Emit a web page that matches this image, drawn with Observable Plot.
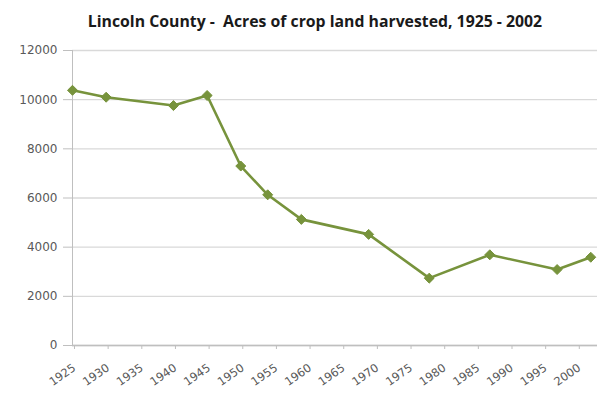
<!DOCTYPE html>
<html>
<head>
<meta charset="utf-8">
<script src="https://cdn.jsdelivr.net/npm/d3@7"></script>
<script src="https://cdn.jsdelivr.net/npm/@observablehq/plot@0.6"></script>
<style>
  html, body { margin: 0; padding: 0; background: #ffffff; }
  #chart svg { display: block; }
</style>
</head>
<body>
<div id="chart"></div>
<script>
// Census of agriculture years and harvested cropland (acres), Lincoln County
const years = [1925, 1930, 1940, 1945, 1950, 1954, 1959, 1969, 1978, 1987, 1997, 2002];
const acres = [10380, 10100, 9760, 10170, 7300, 6130, 5130, 4520, 2740, 3690, 3090, 3590];

const yearTicks = [1925, 1930, 1935, 1940, 1945, 1950, 1955, 1960, 1965, 1970, 1975, 1980, 1985, 1990, 1995, 2000];
const acreTicks = [0, 2000, 4000, 6000, 8000, 10000, 12000];

const title = "Lincoln County -  Acres of crop land harvested, 1925 - 2002";

const data = years.map((year, i) => ({year, acres: acres[i]}));

const lineColor = "#77933c";
const labelColor = "#595959";
const gridColor = "#d9d9d9";
const axisColor = "#bfbfbf";

const chart = Plot.plot({
  width: 600,
  height: 393,
  marginLeft: 72,
  marginRight: 3,
  marginTop: 50,
  marginBottom: 48,
  style: {fontFamily: "DejaVu Sans", background: "#ffffff"},
  x: {type: "linear", domain: [1925, 2003]},
  y: {type: "linear", domain: [0, 12000]},
  marks: [
    Plot.gridY(acreTicks, {stroke: gridColor, strokeOpacity: 1, strokeWidth: 1.3}),
    Plot.ruleX([1925], {stroke: axisColor, strokeWidth: 1}),
    Plot.ruleY([0], {stroke: axisColor, strokeWidth: 1.3}),
    Plot.axisY(acreTicks, {
      tickSize: 9, tickPadding: 6, fontSize: 12,
      stroke: axisColor, fill: labelColor,
      tickFormat: d => String(d), label: null
    }),
    Plot.axisX(yearTicks, {
      tickSize: 4, tickPadding: 17, tickRotate: -35, fontSize: 11.5,
      stroke: axisColor, fill: labelColor, dx: 2,
      tickFormat: d => String(d), label: null
    }),
    Plot.line(data, {x: "year", y: "acres", stroke: lineColor, strokeWidth: 2.6}),
    Plot.dot(data, {x: "year", y: "acres", symbol: "diamond2", r: 4.5, fill: lineColor, stroke: lineColor, strokeWidth: 1}),
    Plot.text([title], {
      frameAnchor: "top", dx: -20, dy: -24, lineAnchor: "bottom",
      fontSize: 15.8, fontWeight: "bold", fontFamily: "Open Sans", fill: "#1a1a1a"
    })
  ]
});

document.getElementById("chart").appendChild(chart);
</script>
</body>
</html>
